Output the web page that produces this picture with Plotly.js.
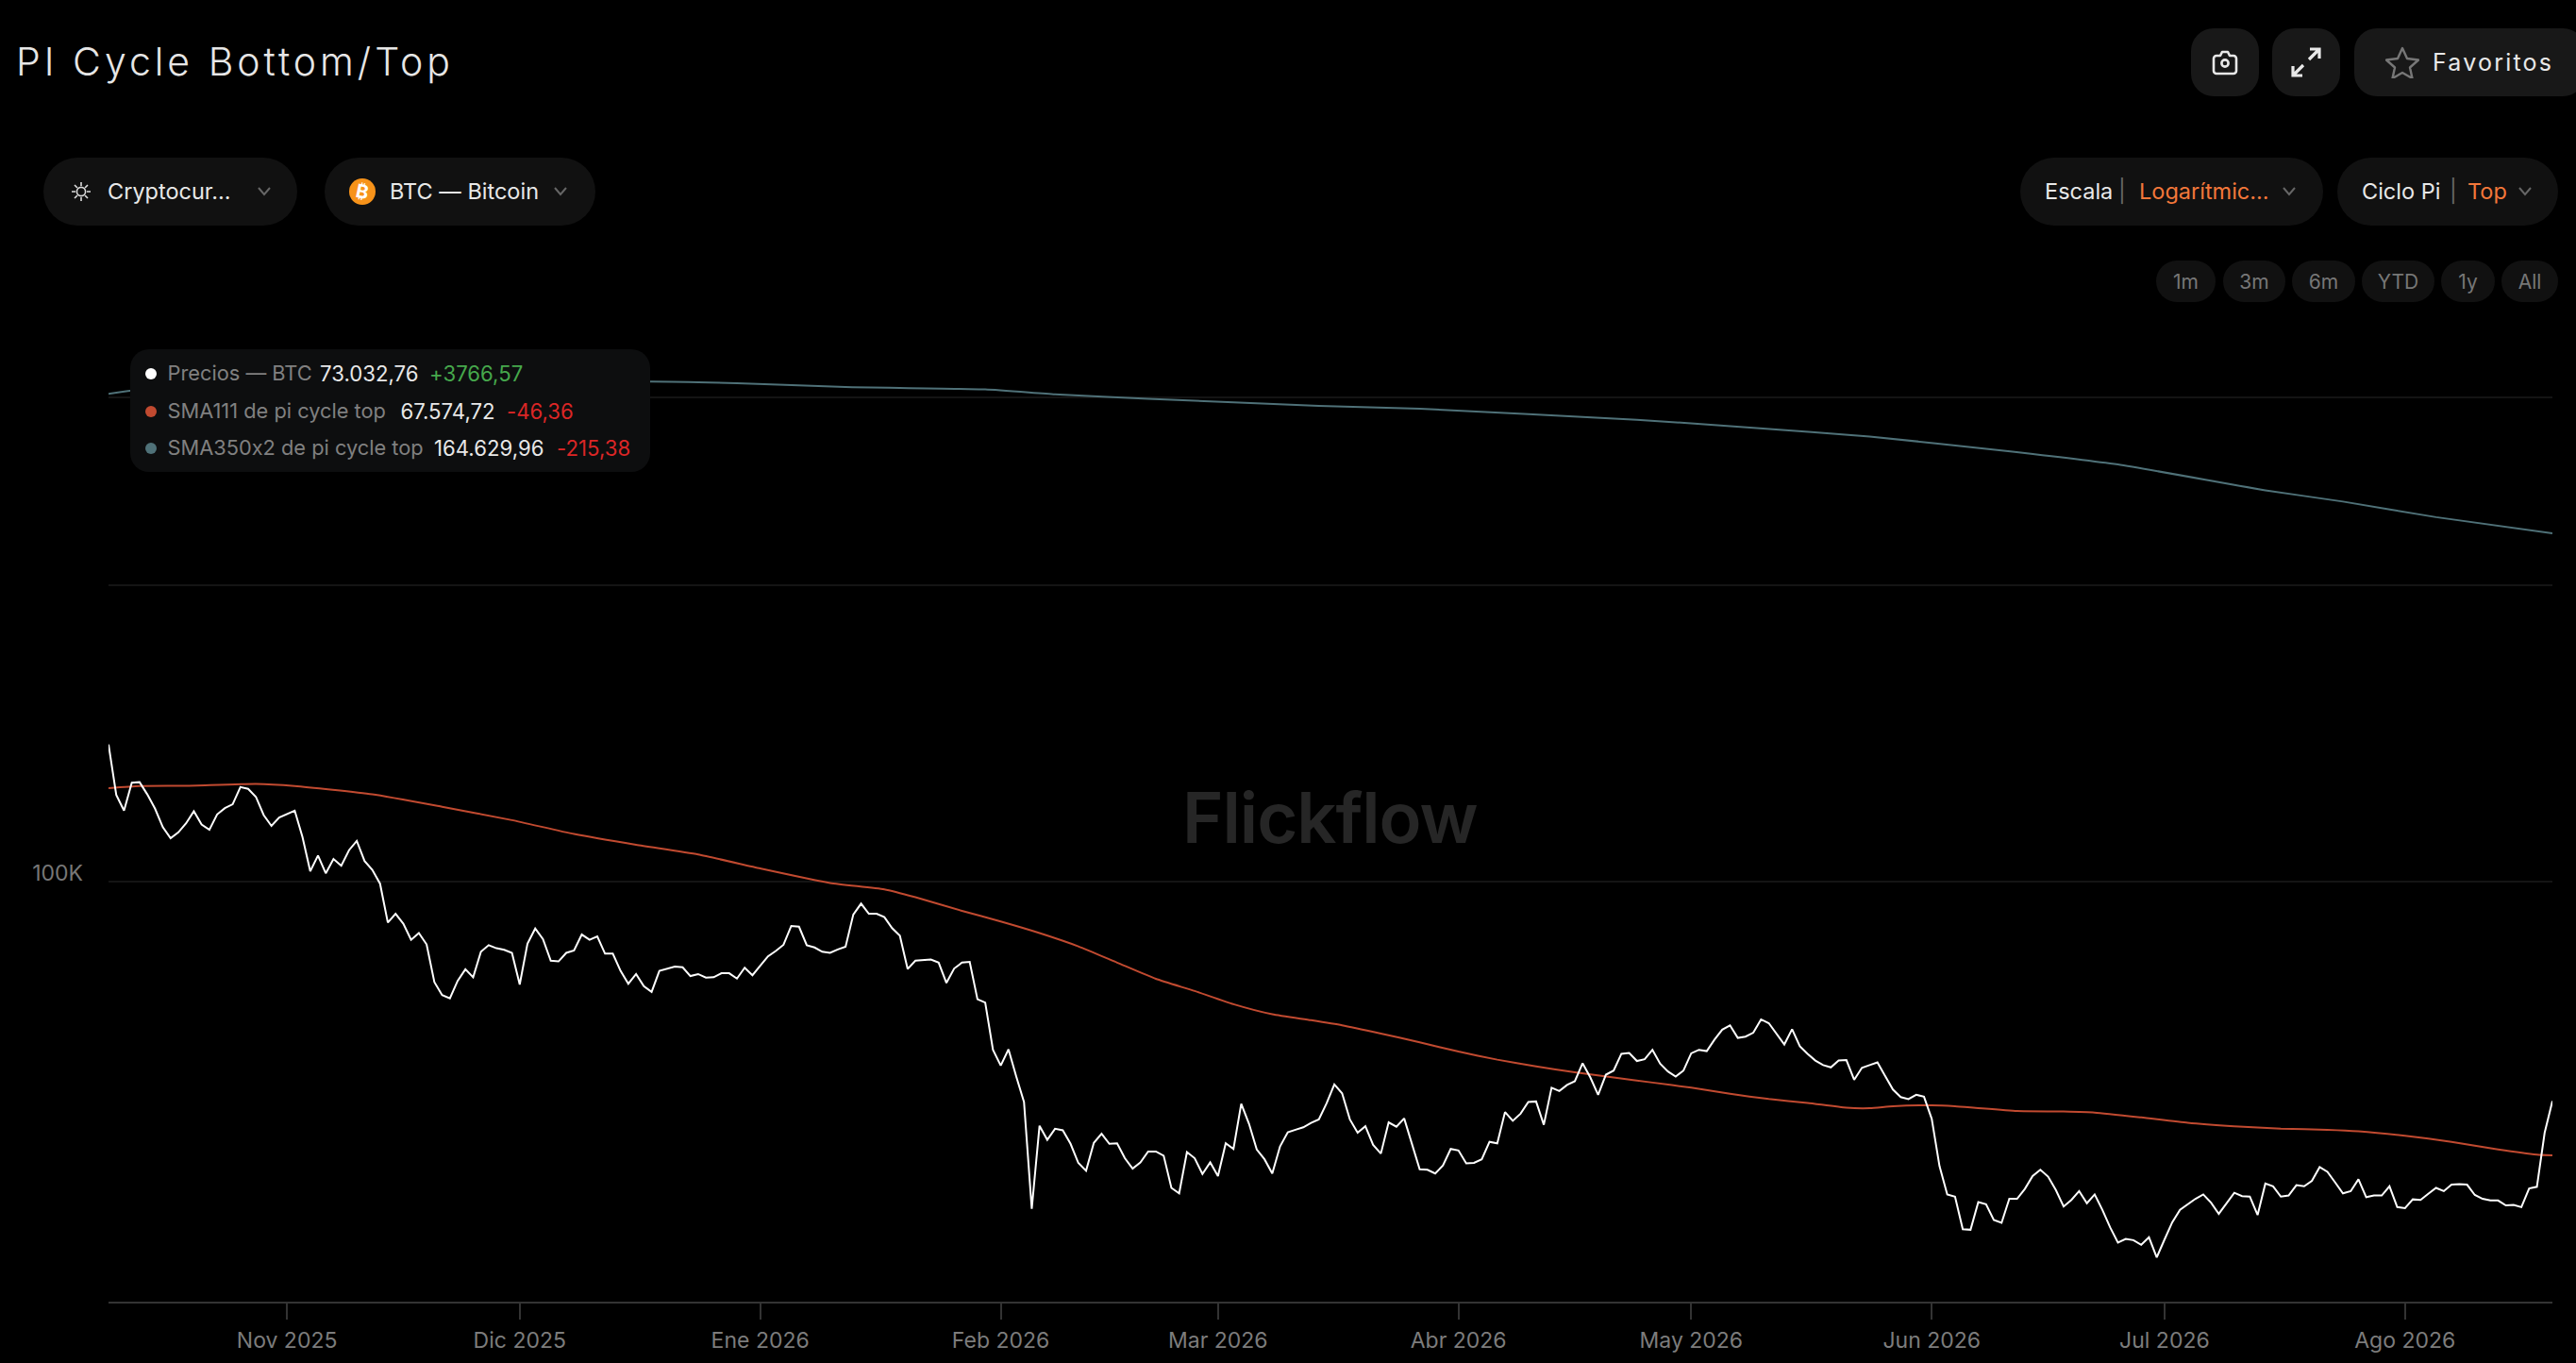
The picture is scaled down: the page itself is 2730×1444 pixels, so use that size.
<!DOCTYPE html>
<html lang="es">
<head>
<meta charset="utf-8">
<title>PI Cycle Bottom/Top</title>
<script src="https://cdn.plot.ly/plotly-3.0.1.min.js"></script>
<style>
html,body{margin:0;padding:0;background:#000;width:2730px;height:1444px;overflow:hidden;font-family:Inter,"Noto Sans",sans-serif;font-feature-settings:"calt" 0}
#chart{position:absolute;left:0;top:0;width:2730px;height:1444px}
.gtitle{letter-spacing:4px}
.annotation-text{letter-spacing:-1px}
.ui{position:absolute;box-sizing:border-box;display:flex;align-items:center;color:#e8e8e8;pointer-events:none}
.ui span{position:absolute;white-space:nowrap;line-height:1}
.pill{height:72px;top:167px;border-radius:36px;background:#111;font-size:23.5px}
.sq{top:30px;height:72px;border-radius:24px;background:#181818}
.rng{top:276px;height:44px;border-radius:22px;background:#111;color:#777;font-size:21px;justify-content:center}
.sep{color:#666}
.org{color:#f3773a}
#tip{left:138px;top:370px;width:551px;height:130px;border-radius:20px;background:#0d0e0f;display:block}
.row{position:absolute;left:0;width:100%;height:30px;font-size:22.2px;color:#e8e8e8}
.row i{position:absolute;display:block;width:12px;height:12px;border-radius:50%;left:16px;top:9px}
.row span{top:4px}
.row .l{left:39.5px;color:#808080;font-size:21.8px}
.row .u{color:#46a84c}
.row .d{color:#dc2626}
</style>
</head>
<body>
<div id="chart"></div>

<div class="ui pill" style="left:46px;width:269px">
  <svg style="position:absolute;left:29px;top:25px" width="22" height="22" viewBox="0 0 22 22" fill="none" stroke="#ddd" stroke-width="1.6"><circle cx="11" cy="11" r="4.6"/><path d="M11 1v4M11 17v4M1 11h4M17 11h4M4 4l3 3M15 15l3 3M18 4l-3 3M7 15l-3 3"/></svg>
  <span style="left:68px">Cryptocur...</span>
  <svg style="position:absolute;left:226px;top:30px" width="16" height="12" viewBox="0 0 16 12" fill="none" stroke="#666" stroke-width="2"><path d="M2 2l6 7 6-7"/></svg>
</div>
<div class="ui pill" style="left:344px;width:287px">
  <svg style="position:absolute;left:26px;top:22px" width="28" height="28" viewBox="0 0 28 28"><circle cx="14" cy="14" r="14" fill="#f7931a"/><text x="14" y="21" text-anchor="middle" font-size="20" font-weight="700" fill="#fff" font-family="Inter" transform="rotate(12 14 14)">₿</text></svg>
  <span style="left:69px">BTC — Bitcoin</span>
  <svg style="position:absolute;left:242px;top:30px" width="16" height="12" viewBox="0 0 16 12" fill="none" stroke="#666" stroke-width="2"><path d="M2 2l6 7 6-7"/></svg>
</div>

<div class="ui sq" style="left:2322px;width:72px;justify-content:center">
  <svg width="32" height="32" viewBox="0 0 32 32" fill="none" stroke="#e8e8e8" stroke-width="2.6" stroke-linejoin="round"><path d="M4 12a3 3 0 0 1 3-3h4l2-4h6l2 4h4a3 3 0 0 1 3 3v13a3 3 0 0 1-3 3H7a3 3 0 0 1-3-3z"/><circle cx="16" cy="17" r="3.6"/></svg>
</div>
<div class="ui sq" style="left:2408px;width:72px;justify-content:center">
  <svg width="34" height="34" viewBox="0 0 34 34" fill="none" stroke="#e8e8e8" stroke-width="3.2"><path d="M20 14L31 3M21 3h10v10M14 20L3 31M13 31H3V21"/></svg>
</div>
<div class="ui sq" style="left:2495px;width:245px;font-size:25px;letter-spacing:2.2px">
  <svg style="position:absolute;left:33px;top:19px" width="36" height="34" viewBox="0 0 36 34" fill="none" stroke="#777" stroke-width="2.4" stroke-linejoin="round"><path d="M18 2l5 11 12 1.500-9 8 2.500 11.500L18 28l-10.500 6L10 22.500l-9-8L13 13z"/></svg>
  <span style="left:83px">Favoritos</span>
</div>

<div class="ui pill" style="left:2141px;width:321px">
  <span style="left:26px">Escala</span><span class="sep" style="left:104px">|</span><span class="org" style="left:126px">Logarítmic...</span>
  <svg style="position:absolute;left:277px;top:30px" width="16" height="12" viewBox="0 0 16 12" fill="none" stroke="#666" stroke-width="2"><path d="M2 2l6 7 6-7"/></svg>
</div>
<div class="ui pill" style="left:2477px;width:234px">
  <span style="left:26px">Ciclo Pi</span><span class="sep" style="left:119px">|</span><span class="org" style="left:138px">Top</span>
  <svg style="position:absolute;left:191px;top:30px" width="16" height="12" viewBox="0 0 16 12" fill="none" stroke="#666" stroke-width="2"><path d="M2 2l6 7 6-7"/></svg>
</div>

<div class="ui rng" style="left:2285px;width:63px">1m</div>
<div class="ui rng" style="left:2356px;width:66px">3m</div>
<div class="ui rng" style="left:2429px;width:67px">6m</div>
<div class="ui rng" style="left:2503px;width:77px">YTD</div>
<div class="ui rng" style="left:2587px;width:57px">1y</div>
<div class="ui rng" style="left:2651px;width:60px">All</div>

<div class="ui" id="tip">
  <div class="row" style="top:11px"><i style="background:#fff"></i><span class="l">Precios — BTC</span><span style="left:201px">73.032,76</span><span class="u" style="left:317px">+3766,57</span></div>
  <div class="row" style="top:51px"><i style="background:#c14a30"></i><span class="l">SMA111 de pi cycle top</span><span style="left:286.5px">67.574,72</span><span class="d" style="left:399px">-46,36</span></div>
  <div class="row" style="top:90px"><i style="background:#4f7178"></i><span class="l">SMA350x2 de pi cycle top</span><span style="left:322px">164.629,96</span><span class="d" style="left:452px">-215,38</span></div>
</div>

<script>
// All prices in thousands of USD; "days" count from the first date.
var startDate = '2025-10-09';
var priceK = [
121.7,113.2,110.7,115.2,115.3,113.3,111.0,108.1,106.4,107.3,
108.7,110.6,108.5,107.7,110.1,111.1,111.7,114.5,114.2,112.9,
110.0,108.3,109.6,110.1,110.7,106.6,101.5,103.8,101.2,103.3,
102.3,104.6,106.0,103.0,101.7,99.7,94.3,95.5,94.15,92.0,
92.9,91.4,86.6,85.0,84.6,86.75,88.2,87.2,90.45,91.3,
90.9,90.7,90.3,86.3,91.5,93.5,92.1,89.3,89.2,90.3,
90.6,92.7,92.0,92.45,90.2,90.2,88.0,86.4,87.6,86.1,
85.4,88.0,88.3,88.55,88.45,87.35,87.6,87.15,87.2,87.7,
87.7,87.04,88.4,87.45,88.65,89.85,90.55,91.35,93.85,93.75,
91.3,91.0,90.45,90.3,90.75,91.1,95.4,96.9,95.5,95.5,
95.05,93.55,92.55,88.24,89.3,89.4,89.45,89.05,86.5,88.3,
89.05,89.15,84.5,84.1,78.6,76.85,78.65,75.65,72.95,62.6,
70.5,69.1,70.2,70.05,68.7,66.85,66.1,68.8,69.7,68.7,
68.75,67.3,66.3,66.9,67.95,67.95,67.55,64.5,64.0,67.9,
67.3,65.8,66.9,65.6,68.75,68.2,72.75,70.7,68.15,67.2,
65.85,68.45,69.85,70.1,70.35,70.8,71.15,72.8,74.8,73.85,
71.15,69.8,70.45,68.6,67.75,70.85,70.4,71.25,68.6,66.25,
66.2,65.85,66.6,68.2,68.05,66.8,66.85,67.2,68.9,68.75,
71.9,71.0,71.73,72.95,73.0,70.6,74.45,74.1,74.75,75.15,
77.1,75.55,73.7,75.85,76.3,78.15,78.25,77.35,77.55,78.6,
77.05,76.2,75.65,76.3,78.2,78.6,78.45,79.75,80.9,81.4,
79.95,80.1,80.55,82.1,81.65,80.4,79.2,80.95,79.0,78.15,
77.4,76.9,76.65,77.4,77.45,75.3,76.6,76.9,77.2,75.7,
74.25,73.45,73.25,73.7,73.5,71.2,66.55,63.9,63.7,60.8,
60.75,63.2,63.0,61.6,61.35,63.5,63.5,64.4,65.6,66.2,
65.55,64.3,62.8,63.4,64.2,63.1,63.9,62.5,60.95,59.65,
59.95,59.85,59.45,60.1,58.4,59.9,61.4,62.5,63.0,63.5,
63.9,63.15,62.15,63.1,64.05,63.75,63.7,62.05,64.9,64.65,
63.7,63.8,64.75,64.65,65.15,66.45,66.0,65.0,64.0,64.2,
65.3,63.65,63.8,63.8,64.65,62.75,62.65,63.45,63.4,63.95,
64.5,64.2,64.8,64.85,64.8,63.85,63.5,63.35,63.35,62.9,
62.95,62.75,64.45,64.6,69.8,73.03];

var sma111Days = [0,4,10,19,24,34,43,52,60,68,76,84,93,100,104,110,115,120,125,130,135,140,145,150,155,159,164,169,174,179,184,189,194,199,204,209,214,219,224,227,230,235,238,241,246,252,256,262,268,274,280,286,290,296,302,308,313,315];
var sma111K = [114.3,114.65,114.7,115.0,114.65,113.3,111.3,109.2,107.05,105.4,103.95,101.9,99.8,98.9,97.8,95.9,94.45,92.9,91.15,89.05,87.0,85.5,83.9,82.7,82.0,81.4,80.45,79.45,78.4,77.5,76.75,76.1,75.55,75.0,74.45,73.8,73.25,72.85,72.35,72.3,72.5,72.6,72.5,72.3,72.0,71.95,71.85,71.35,70.8,70.45,70.2,70.1,69.95,69.5,68.9,68.15,67.65,67.57];

var sma350x2Days = [0,3,70,81,95,113,122,134,156,169,197,212,227,244,259,278,288,300,315];
var sma350x2K = [201.0,202.0,204.6,204.1,203.0,202.3,200.9,199.6,197.6,196.8,193.7,191.5,189.1,185.4,181.7,175.1,172.3,168.5,164.63];

var monthTicks = ['2025-11-01','2025-12-01','2026-01-01','2026-02-01','2026-03-01','2026-04-01','2026-05-01','2026-06-01','2026-07-01','2026-08-01'];
var monthLabels = ['Nov 2025','Dic 2025','Ene 2026','Feb 2026','Mar 2026','Abr 2026','May 2026','Jun 2026','Jul 2026','Ago 2026'];
var gridTicksK = [100,152.9,200];
var gridLabels = ['100K','',''];

function dayToDate(d){
  return new Date(Date.parse(startDate+'T00:00:00Z')+d*86400000).toISOString().slice(0,10);
}
var priceDates = priceK.map(function(_,i){return dayToDate(i);});

var traces = [
  {name:'SMA350x2 de pi cycle top',x:sma350x2Days.map(dayToDate),y:sma350x2K,mode:'lines',line:{color:'#4f7178',width:2,shape:'spline',smoothing:0.5}},
  {name:'SMA111 de pi cycle top',x:sma111Days.map(dayToDate),y:sma111K,mode:'lines',line:{color:'#c14a30',width:2,shape:'spline',smoothing:0.5}},
  {name:'Precios — BTC',x:priceDates,y:priceK,mode:'lines',line:{color:'#ffffff',width:2}}
];

var layout = {
  width:2730,height:1444,
  paper_bgcolor:'#000',plot_bgcolor:'#000',
  showlegend:false,hovermode:false,
  margin:{l:115,r:25,t:390,b:65,pad:0},
  title:{text:'PI Cycle Bottom/Top',x:17/2730,xanchor:'left',xref:'container',y:0.9545,yanchor:'middle',yref:'container',
         font:{family:'Inter',size:41,weight:300,color:'#e6e6e6'}},
  font:{family:'Inter'},
  xaxis:{type:'date',range:[priceDates[0],priceDates[priceDates.length-1]],
         tickmode:'array',tickvals:monthTicks,ticktext:monthLabels,
         ticks:'outside',ticklen:17,tickwidth:2,tickcolor:'#333',
         showline:true,linecolor:'#333',linewidth:2,showgrid:false,zeroline:false,
         ticklabelstandoff:2,
         tickfont:{family:'Inter',size:23,color:'#7c7c7c'}},
  yaxis:{type:'log',range:[1.73884,2.31925],
         tickmode:'array',tickvals:gridTicksK,ticktext:gridLabels,
         ticks:'',showline:false,zeroline:false,
         showgrid:true,gridcolor:'#141414',gridwidth:2,
         ticklabelstandoff:26,ticklabelshift:-9,
         tickfont:{family:'Inter',size:23,color:'#777'}},
  annotations:[{text:'Flickflow',xref:'paper',yref:'paper',x:(1409.5-115)/2590,y:(1379-866)/989,
    xanchor:'center',yanchor:'middle',showarrow:false,
    font:{family:'Inter',size:74,weight:600,color:'#262626'}}]
};
Plotly.newPlot('chart',traces,layout,{displayModeBar:false,responsive:false});
</script>
</body>
</html>
